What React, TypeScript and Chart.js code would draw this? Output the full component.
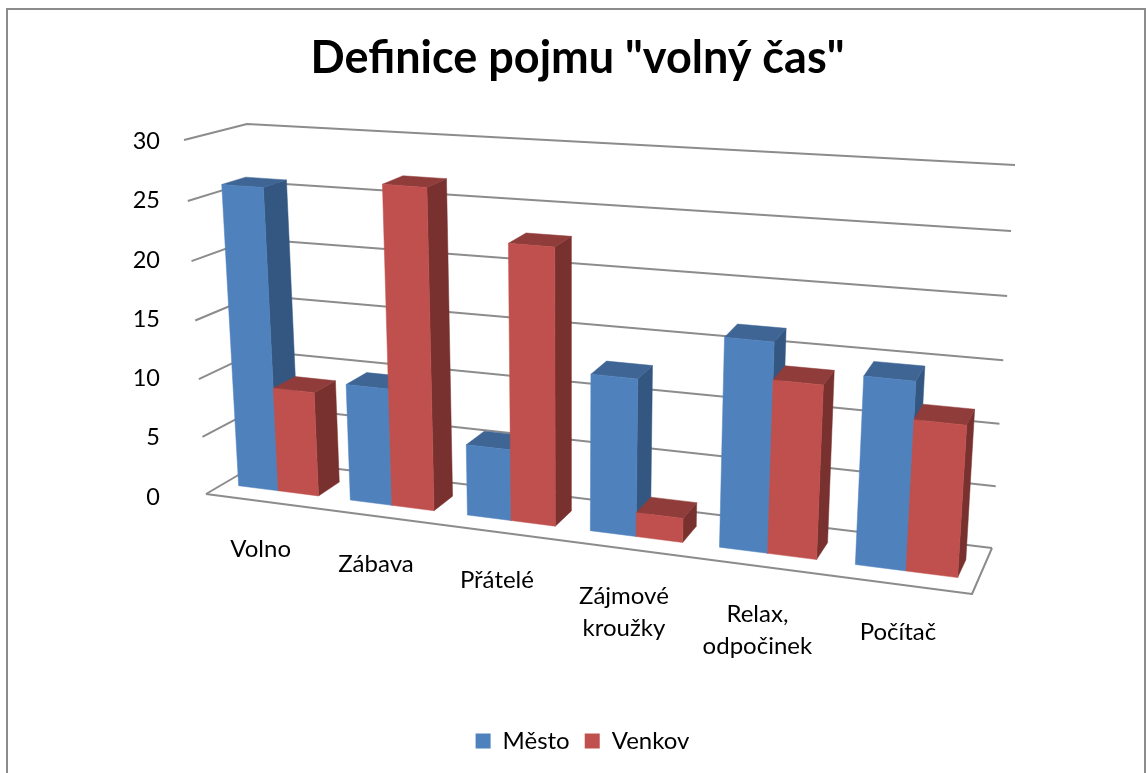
import React, { useEffect, useRef } from "react";
import { Chart, registerables } from "chart.js";

Chart.register(...registerables);

const categories: (string | string[])[] = ["Volno", "Zábava", "Přátelé", ["Zájmové", "kroužky"], ["Relax,", "odpočinek"], "Počítač"];
const mesto = [26, 10, 6, 13, 17, 15];
const venkov = [9, 27, 23, 2, 14, 12];
const titleText = 'Definice pojmu "volný čas"';

const FONT = "Lato, Carlito, Calibri, sans-serif";

type P = [number, number];
// Corners of the 3D box on the page: Front/Back, Bottom/Top, Left/Right
const FBL: P = [206, 494], FBR: P = [972, 594], BBL: P = [264, 460], BBR: P = [992, 548];
const FTL: P = [184, 140], FTR: P = [997, 199], BTL: P = [247, 124], BTR: P = [1015, 165];
const DEPTH_FRONT = 0.3, DEPTH_BACK = 0.69;
const K_U = 0.16, K_V = 0.04;

const mix = (a: P, b: P, t: number): P => [a[0] + (b[0] - a[0]) * t, a[1] + (b[1] - a[1]) * t];
function project(u: number, d: number, t: number): P {
  const U = u / (1 + K_U * (1 - u));
  const T = t / (1 + K_V * (1 - t));
  const fb = mix(FBL, FBR, U), ft = mix(FTL, FTR, U), bb = mix(BBL, BBR, U), bt = mix(BTL, BTR, U);
  return mix(mix(fb, bb, d), mix(ft, bt, d), T);
}

function poly(ctx: CanvasRenderingContext2D, pts: P[], color: string) {
  ctx.beginPath();
  pts.forEach((p, i) => (i ? ctx.lineTo(p[0], p[1]) : ctx.moveTo(p[0], p[1])));
  ctx.closePath();
  ctx.fillStyle = color;
  ctx.fill();
  ctx.strokeStyle = color;
  ctx.lineWidth = 0.5;
  ctx.stroke();
}
function line(ctx: CanvasRenderingContext2D, pts: P[]) {
  ctx.beginPath();
  pts.forEach((p, i) => (i ? ctx.lineTo(p[0], p[1]) : ctx.moveTo(p[0], p[1])));
  ctx.stroke();
}

const shades = [
  { front: "#4F81BD", top: "#3E6594", side: "#335780" },
  { front: "#C0504D", top: "#8F3C3A", side: "#78312F" },
];

const box3d = {
  id: "box3d",
  beforeDraw(chart: any) {
    const c = chart.ctx;
    c.save();
    c.strokeStyle = "#8c8c8c";
    c.lineWidth = 2;
    c.strokeRect(7, 9, 1138, 800);
    c.restore();
  },
  afterLayout(chart: any) {
    if (chart.legend) {
      chart.legend.left += 5;
      chart.legend.right += 5;
      const h = chart.legend.height;
      chart.legend.top = 714;
      chart.legend.bottom = chart.legend.top + h;
    }
  },
  beforeDatasetsDraw(chart: any) {
    const c: CanvasRenderingContext2D = chart.ctx;
    const { left, width } = chart.chartArea;
    const yS = chart.scales.y, xS = chart.scales.x;
    const frac = (px: number) => (yS.bottom - px) / (yS.bottom - yS.top);
    const ux = (px: number) => (px - left) / width;

    // walls and floor
    c.save();
    c.strokeStyle = "#8c8c8c";
    c.lineWidth = 2;
    c.lineJoin = "round";
    yS.ticks.forEach((tk: any) => {
      const t = frac(yS.getPixelForValue(tk.value));
      line(c, [project(0, 0, t), project(0, 1, t), project(1, 1, t)]);
    });
    line(c, [project(0, 0, 0), project(1, 0, 0), project(1, 1, 0)]);
    c.restore();

    // bars
    const metas = chart.getSortedVisibleDatasetMetas();
    categories.forEach((_, i) => {
      metas.forEach((m: any, s: number) => {
        const el = m.data[i];
        const u0 = ux(el.x - el.width / 2), u1 = ux(el.x + el.width / 2);
        const t = frac(el.y), col = shades[s];
        const d0 = DEPTH_FRONT, d1 = DEPTH_BACK;
        poly(c, [project(u1, d0, 0), project(u1, d1, 0), project(u1, d1, t), project(u1, d0, t)], col.side);
        poly(c, [project(u0, d0, t), project(u1, d0, t), project(u1, d1, t), project(u0, d1, t)], col.top);
        poly(c, [project(u0, d0, 0), project(u1, d0, 0), project(u1, d0, t), project(u0, d0, t)], col.front);
      });
    });

    // category labels, which sit along the sloping front edge
    c.save();
    c.fillStyle = "#000";
    c.font = `24px ${FONT}`;
    c.textAlign = "center";
    c.textBaseline = "middle";
    categories.forEach((lab, i) => {
      const p = project(ux(xS.getPixelForTick(i)), 0, 0);
      const lines = Array.isArray(lab) ? lab : [lab];
      lines.forEach((ln, j) => c.fillText(ln, p[0] - 1, p[1] + 48 + j * 32));
    });
    c.restore();
    return false;
  },
};

export default function App() {
  const ref = useRef<HTMLCanvasElement>(null);
  useEffect(() => {
    const chart = new Chart(ref.current!, {
      type: "bar",
      data: {
        labels: categories as any,
        datasets: [
          { label: "Město", data: mesto, backgroundColor: shades[0].front, borderWidth: 0 },
          { label: "Venkov", data: venkov, backgroundColor: shades[1].front, borderWidth: 0 },
        ],
      },
      plugins: [box3d],
      options: {
        responsive: false,
        animation: false,
        layout: { padding: { left: 9, right: 0, top: 0, bottom: 0 } },
        datasets: { bar: { categoryPercentage: 0.72, barPercentage: 1 } },
        plugins: {
          tooltip: { enabled: false },
          title: {
            display: true,
            text: titleText,
            color: "#000",
            font: { family: FONT, size: 45, weight: "bold" },
            padding: { top: 31, bottom: 56.5 },
          },
          legend: {
            position: "bottom",
            labels: {
              color: "#000",
              font: { family: FONT, size: 24 },
              boxWidth: 15,
              boxHeight: 15,
              padding: 15,
            },
          },
        },
        scales: {
          x: {
            grid: { display: false, drawTicks: false },
            border: { display: false },
            ticks: { display: false },
            afterFit: (s: any) => { s.height = 227; },
          },
          y: {
            min: 0,
            max: 30,
            grid: { display: false, drawTicks: false },
            border: { display: false },
            ticks: { stepSize: 5, color: "#000", padding: 10, font: { family: FONT, size: 23.5 } },
            afterFit: (s: any) => { s.width = 161; },
          },
        },
      } as any,
    });
    return () => chart.destroy();
  }, []);
  return <canvas ref={ref} width={1146} height={773} style={{ position: "absolute", left: 0, top: 0, display: "block" }} />;
}
